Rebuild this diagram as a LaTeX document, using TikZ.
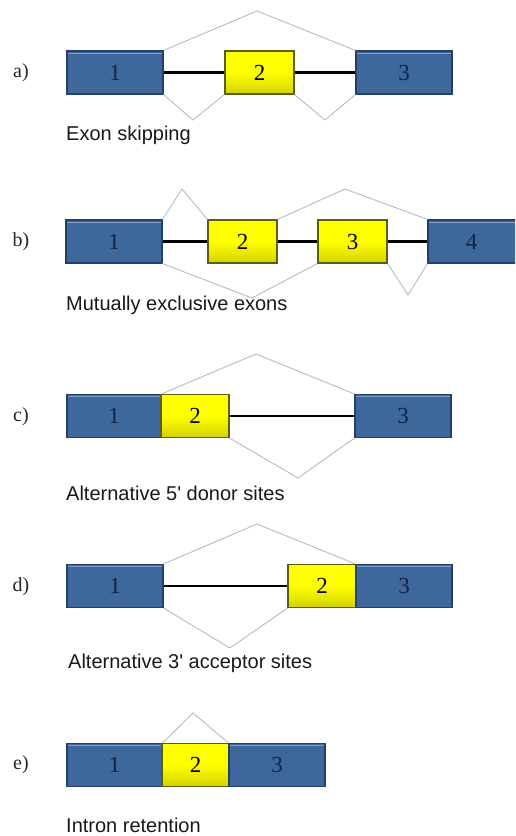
\documentclass[tikz,border=0pt]{standalone}
\usepackage{fontspec}
\setmainfont{Liberation Serif}
\newfontfamily\capfont{Liberation Sans}
\definecolor{exonblue}{HTML}{3E679C}
\definecolor{exonedge}{HTML}{263F66}
\definecolor{exonhl}{HTML}{7E9FCB}
\definecolor{exonnum}{HTML}{152346}
\definecolor{altyellow}{HTML}{FFFF00}
\definecolor{altyellowdark}{HTML}{D2D200}
\definecolor{altedge}{HTML}{5E5E10}
\definecolor{splicegray}{HTML}{A8B7CA}
\tikzset{
  constitutive/.style={draw=exonedge, line width=1.2pt, fill=exonblue, inner sep=0pt,
    minimum height=43pt, text=exonnum, font=\fontsize{23}{23}\selectfont,
    path picture={\draw[exonhl, line width=1pt]
      ([xshift=1pt,yshift=-2.2pt]path picture bounding box.north west) --
      ([xshift=-1pt,yshift=-2.2pt]path picture bounding box.north east);}},
  alternative/.style={draw=altedge, line width=1.2pt, top color=altyellow,
    bottom color=altyellowdark, middle color=altyellow, inner sep=0pt,
    minimum height=43pt, text=black, font=\fontsize{23}{23}\selectfont},
  intron/.style={black, line width=2.2pt},
  splice/.style={splicegray, line width=0.8pt, line join=miter},
  panel/.style={font=\fontsize{20}{20}\selectfont, text=black!85},
  caption/.style={anchor=west, font=\capfont\fontsize{20}{22}\selectfont, text=black!90, inner sep=0pt}
}
\begin{document}
\begin{tikzpicture}[x=1pt, y=-1pt]
\clip (0,0) rectangle (515,836);
\fill[white] (0,0) rectangle (515,836);

% a) exon skipping
\node[panel] (la) at (21,73) {a)};
\node[constitutive, minimum width=96pt] (a1) at (115,72.5) {1};
\node[alternative, minimum width=69pt] (a2) at (259.5,72.5) {2};
\node[constitutive, minimum width=96pt] (a3) at (404,72.5) {3};
\draw[intron] (a1.east) -- (a2.west);
\draw[intron] (a2.east) -- (a3.west);
\coordinate (aTop) at (257,11);
\coordinate (aB1) at (193,120);
\coordinate (aB2) at (325,120);
\draw[splice] (a1.north east) -- (aTop) -- (a3.north west);
\draw[splice] (a1.south east) -- (aB1) -- (a2.south west);
\draw[splice] (a2.south east) -- (aB2) -- (a3.south west);
\node[caption] (ca) at (66,135) {Exon skipping};

% b) mutually exclusive exons
\node[panel] (lb) at (21,242) {b)};
\node[constitutive, minimum width=96pt] (b1) at (114,241.5) {1};
\node[alternative, minimum width=69pt] (b2) at (242.5,241.5) {2};
\node[alternative, minimum width=69pt] (b3) at (352.5,241.5) {3};
\node[constitutive, minimum width=110pt] (b4) at (483,241.5) {\hspace*{-23pt}4};
\draw[intron] (b1.east) -- (b2.west);
\draw[intron] (b2.east) -- (b3.west);
\draw[intron] (b3.east) -- (b4.west);
\coordinate (bT1) at (182,189);
\coordinate (bT2) at (345,189);
\coordinate (bB1) at (252,298);
\coordinate (bB2) at (408,295);
\draw[splice] (b1.north east) -- (bT1) -- (b2.north west);
\draw[splice] (b2.north east) -- (bT2) -- (b4.north west);
\draw[splice] (b1.south east) -- (bB1) -- (b3.south west);
\draw[splice] (b3.south east) -- (bB2) -- (b4.south west);
\node[caption] (cb) at (66,305) {Mutually exclusive exons};

% c) alternative 5' donor sites
\node[panel] (lc) at (21,417) {c)};
\node[constitutive, minimum width=94pt] (c1) at (114,416) {1};
\node[alternative, minimum width=68pt] (c2) at (195,416) {2};
\node[constitutive, minimum width=96pt] (c3) at (403,416) {3};
\draw[intron] (c2.east) -- (c3.west);
\coordinate (cTop) at (256,354);
\coordinate (cBot) at (298,478);
\draw[splice] (c1.north east) -- (cTop) -- (c3.north west);
\draw[splice] (c2.south east) -- (cBot) -- (c3.south west);
\node[caption] (cc) at (66,493) {Alternative 5' donor sites};

% d) alternative 3' acceptor sites
\node[panel] (ld) at (21,587) {d)};
\node[constitutive, minimum width=96pt] (d1) at (115,586) {1};
\node[alternative, minimum width=68pt] (d2) at (322,586) {2};
\node[constitutive, minimum width=96pt] (d3) at (404,586) {3};
\draw[intron] (d1.east) -- (d2.west);
\coordinate (dTop) at (257,524);
\coordinate (dBot) at (230,648);
\draw[splice] (d1.north east) -- (dTop) -- (d3.north west);
\draw[splice] (d1.south east) -- (dBot) -- (d2.south west);
\node[caption] (cd) at (68,663) {Alternative 3' acceptor sites};

% e) intron retention
\node[panel] (le) at (21,765) {e)};
\node[constitutive, minimum width=95pt] (e1) at (114.5,765) {1};
\node[alternative, minimum width=67pt] (e2) at (195.5,765) {2};
\node[constitutive, minimum width=96pt] (e3) at (277,765) {3};
\coordinate (eTop) at (193,713);
\draw[splice] (e1.north east) -- (eTop) -- (e3.north west);
\node[caption] (ce) at (66,825) {Intron retention};
\end{tikzpicture}
\end{document}
